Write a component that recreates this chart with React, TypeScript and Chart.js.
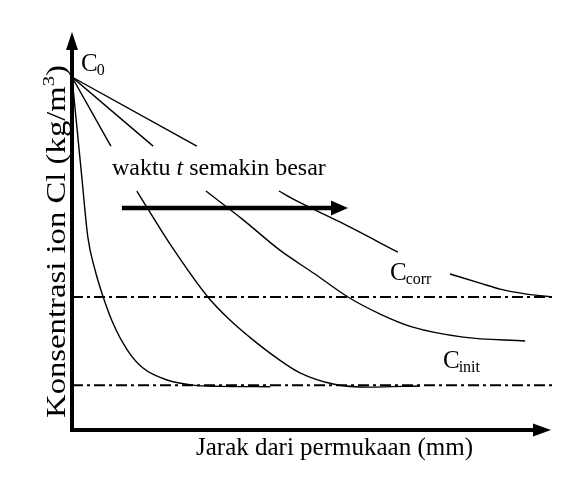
import React, { useEffect, useRef } from "react";
import { Chart, registerables } from "chart.js";

Chart.register(...registerables);

// ---- data (arbitrary units: x = distance, y = concentration) ----
const X_MIN = 0;
const X_MAX = 100;
const Y_MIN = 0;
const Y_MAX = 100;

const C0 = 88.9;
const C_CORR = 33.5;
const C_INIT = 11.3;

// curve 1 (earliest time)
const curve1X = [0, 2.1, 3.3, 4.8, 6.5, 8.5, 11.5, 14.8, 19.8, 25.2, 30.8, 41.3];
const curve1Y = [C0, 63.0, 48.6, 40.3, 33.5, 27.0, 20.2, 15.6, 12.6, 11.3, 11.0, 10.9];

// curve 2 (gap where the label is)
const curve2X = [0, 8.1, 10.8, 13.5, 21.0, 28.3, 32.9, 37.7, 42.7, 47.5, 54.4, 62.1, 72.5];
const curve2Y = [C0, 71.5, null, 60.2, 45.8, 33.5, 27.7, 22.7, 18.1, 14.4, 11.6, 10.8, 11.1];

// curve 3
const curve3X = [0, 16.9, 22.0, 27.9, 35.6, 43.3, 50.6, 57.5, 64.2, 71.0, 81.5, 94.4];
const curve3Y = [C0, 71.5, null, 60.2, 53.0, 45.3, 39.3, 33.5, 29.2, 25.9, 23.4, 22.4];

// curve 4 (latest time, gaps at text and at C_corr label)
const curve4X = [0, 26.0, 35.0, 43.1, 46.0, 55.8, 67.9, 73.0, 78.75, 85.0, 89.2, 94.4, 100];
const curve4Y = [C0, 71.5, null, 60.2, 58.2, 52.4, 44.8, null, 39.3, 37.0, 35.5, 34.3, 33.5];

const limitX = [X_MIN, X_MAX];

// arrow "waktu t semakin besar"
const timeArrowX = [10.4, 57.5];
const timeArrowY = 55.9;

const toPoints = (xs: number[], ys: (number | null)[]) =>
  xs.map((x, i) => ({ x, y: ys[i] }));

const FONT = '"Liberation Serif", "Times New Roman", serif';

const overlay = {
  id: "overlay",
  afterDraw(chart: any) {
    const { ctx } = chart;
    const xs = chart.scales.x;
    const ys = chart.scales.y;
    const px = (v: number) => xs.getPixelForValue(v);
    const py = (v: number) => ys.getPixelForValue(v);
    ctx.save();
    ctx.fillStyle = "#000";
    ctx.strokeStyle = "#000";
    ctx.lineCap = "butt";

    const ox = px(X_MIN);
    const oy = py(Y_MIN);
    // y axis
    ctx.lineWidth = 4;
    ctx.beginPath();
    ctx.moveTo(ox, oy + 2);
    ctx.lineTo(ox, ys.top + 14);
    ctx.stroke();
    ctx.beginPath();
    ctx.moveTo(ox, ys.top - 1);
    ctx.lineTo(ox - 6, ys.top + 17);
    ctx.lineTo(ox + 6, ys.top + 17);
    ctx.closePath();
    ctx.fill();
    // x axis
    ctx.beginPath();
    ctx.moveTo(ox - 2, oy);
    ctx.lineTo(xs.right - 16, oy);
    ctx.stroke();
    ctx.beginPath();
    ctx.moveTo(xs.right - 1, oy);
    ctx.lineTo(xs.right - 19, oy - 6.5);
    ctx.lineTo(xs.right - 19, oy + 6.5);
    ctx.closePath();
    ctx.fill();

    // time arrow
    const ay = py(timeArrowY);
    const ax0 = px(timeArrowX[0]);
    const ax1 = px(timeArrowX[1]);
    ctx.lineWidth = 4.5;
    ctx.beginPath();
    ctx.moveTo(ax0, ay);
    ctx.lineTo(ax1 - 14, ay);
    ctx.stroke();
    ctx.beginPath();
    ctx.moveTo(ax1, ay);
    ctx.lineTo(ax1 - 17, ay - 7.5);
    ctx.lineTo(ax1 - 17, ay + 7.5);
    ctx.closePath();
    ctx.fill();

    ctx.textBaseline = "alphabetic";
    ctx.textAlign = "left";

    // "waktu t semakin besar"
    const tx = ax0 - 10;
    const tY = ay - 33;
    ctx.font = `24px ${FONT}`;
    let cx = tx;
    ctx.fillText("waktu ", cx, tY);
    cx += ctx.measureText("waktu ").width;
    ctx.font = `italic 24px ${FONT}`;
    ctx.fillText("t", cx, tY);
    cx += ctx.measureText("t").width;
    ctx.font = `24px ${FONT}`;
    ctx.fillText(" semakin besar", cx, tY);

    // subscript labels
    const subLabel = (main: string, sub: string, x: number, base: number) => {
      ctx.font = `25px ${FONT}`;
      ctx.fillText(main, x, base);
      const w = ctx.measureText(main).width;
      ctx.font = `16px ${FONT}`;
      ctx.fillText(sub, x + w - 1, base + 4);
    };
    subLabel("C", "0", ox + 9, py(C0) - 6);
    subLabel("C", "corr", 390, py(C_CORR) - 17);
    subLabel("C", "init", 443, py(C_INIT) - 17);

    // x title
    ctx.font = `25px ${FONT}`;
    ctx.fillText("Jarak dari permukaan (mm)", 196, oy + 25);

    // y title (rotated)
    ctx.save();
    ctx.translate(65, 418);
    ctx.rotate(-Math.PI / 2);
    ctx.font = `27px ${FONT}`;
    const p1 = "Konsentrasi ion Cl (kg/m";
    const w1 = ctx.measureText(p1).width;
    ctx.font = `17px ${FONT}`;
    const w2 = ctx.measureText("3").width;
    ctx.font = `27px ${FONT}`;
    const w3 = ctx.measureText(")").width;
    const total = w1 + w2 + w3;
    const sx = 353 / total;
    ctx.scale(sx, 1);
    ctx.fillText(p1, 0, 0);
    ctx.font = `17px ${FONT}`;
    ctx.fillText("3", w1, -11);
    ctx.font = `27px ${FONT}`;
    ctx.fillText(")", w1 + w2, 0);
    ctx.restore();

    ctx.restore();
  },
};

export default function App() {
  const ref = useRef<HTMLCanvasElement | null>(null);
  useEffect(() => {
    if (!ref.current) return;
    const curveStyle = {
      borderColor: "#000",
      borderWidth: 1.4,
      pointRadius: 0,
      fill: false,
      cubicInterpolationMode: "monotone" as const,
      spanGaps: false,
    };
    const limitStyle = {
      borderColor: "#000",
      borderWidth: 2,
      borderDash: [11, 4, 3, 4],
      pointRadius: 0,
      fill: false,
    };
    const chart = new Chart(ref.current, {
      type: "line",
      data: {
        datasets: [
          { label: "C_corr", data: toPoints(limitX, [C_CORR, C_CORR]), ...limitStyle },
          { label: "C_init", data: toPoints(limitX, [C_INIT, C_INIT]), ...limitStyle },
          { label: "t1", data: toPoints(curve1X, curve1Y), ...curveStyle },
          { label: "t2", data: toPoints(curve2X, curve2Y), ...curveStyle },
          { label: "t3", data: toPoints(curve3X, curve3Y), ...curveStyle },
          { label: "t4", data: toPoints(curve4X, curve4Y), ...curveStyle },
        ] as any,
      },
      options: {
        responsive: false,
        animation: false,
        devicePixelRatio: 1,
        layout: { padding: { left: 72, right: 30, top: 33, bottom: 57 } },
        plugins: { legend: { display: false }, tooltip: { enabled: false } },
        scales: {
          x: { type: "linear", min: X_MIN, max: X_MAX, display: false },
          y: { type: "linear", min: Y_MIN, max: Y_MAX, display: false },
        },
      },
      plugins: [overlay],
    });
    return () => chart.destroy();
  }, []);
  return (
    <canvas
      ref={ref}
      width={582}
      height={487}
      style={{ position: "fixed", left: 0, top: 0, background: "#fff" }}
    />
  );
}
